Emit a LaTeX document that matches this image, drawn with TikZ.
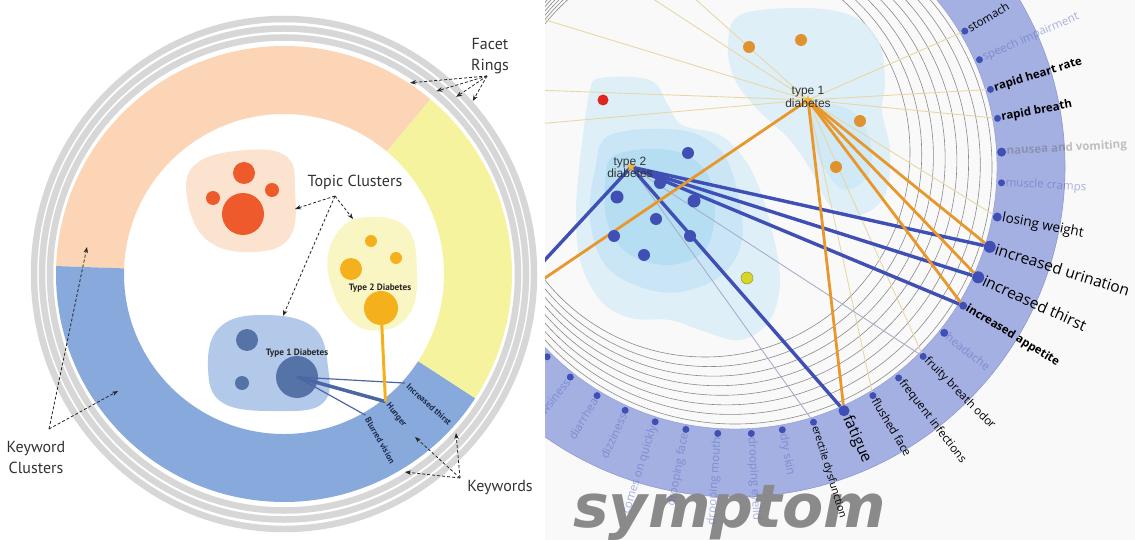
\documentclass[tikz,border=0pt]{standalone}
\usepackage{fontspec}
\setmainfont{PT Sans}
\newfontfamily\labfont{Open Sans}
\newfontfamily\arialfont{Liberation Sans}
\newfontfamily\symfont{DejaVu Sans}
\usetikzlibrary{arrows.meta,calc,shapes.geometric}
\definecolor{peachband}{HTML}{FBD5B5}
\definecolor{yellowband}{HTML}{F6F39F}
\definecolor{blueband}{HTML}{87A9DB}
\definecolor{ringgray}{HTML}{D7D7D7}
\definecolor{peachblob}{HTML}{FCE3CF}
\definecolor{reddot}{HTML}{EE5A2C}
\definecolor{yellowblob}{HTML}{FAF6C3}
\definecolor{ydot}{HTML}{F5B11B}
\definecolor{blueblob}{HTML}{B3C9EA}
\definecolor{bdotL}{HTML}{5573A7}
\definecolor{kwtext}{HTML}{1E2B4A}
\definecolor{linkblue}{HTML}{4A67A3}
\definecolor{annot}{HTML}{333333}
\definecolor{rbg}{HTML}{F9F9F9}
\definecolor{bandblue}{HTML}{A4AFE2}
\definecolor{bandedge}{HTML}{8E99CF}
\definecolor{ringline}{HTML}{8A8A8A}
\definecolor{blobA}{HTML}{DCEEF8}
\definecolor{blobB}{HTML}{C8E6F6}
\definecolor{blobC}{HTML}{B0DCF3}
\definecolor{orangeline}{HTML}{E8972B}
\definecolor{linkdark}{HTML}{3F4FB3}
\definecolor{tanline}{HTML}{E8D7A6}
\definecolor{grayline}{HTML}{A9AFCB}
\definecolor{odot}{HTML}{E0922E}
\definecolor{rdot}{HTML}{E0241F}
\definecolor{ydotB}{HTML}{D6D62A}
\definecolor{starorange}{HTML}{F4B43A}
\definecolor{labfade}{HTML}{5A6ABF}
\definecolor{symgray}{HTML}{8A8A8A}
\tikzset{
  dotnode/.style={circle,inner sep=0pt,draw=none},
  annotext/.style={font=\fontsize{16}{21}\selectfont,text=annot,align=center,inner sep=0pt},
  annarrow/.style={densely dashed,line width=0.8pt,draw=black!85,-{Stealth[length=6pt,width=4.5pt]}},
  kwlab/.style={font=\bfseries\fontsize{8.6}{9}\selectfont,text=kwtext,inner sep=0.5pt},
  typelab/.style={font=\bfseries\fontsize{9.2}{10}\selectfont,text=black!85,inner sep=0pt},
  bdot/.style={circle,inner sep=0pt,fill=linkdark},
  lreg/.style={font=\labfont\fontsize{11.5}{12}\selectfont,text=black,inner sep=0pt},
  lsmall/.style={font=\labfont\fontsize{10.5}{11}\selectfont,text=black,inner sep=0pt},
  lbold/.style={font=\labfont\bfseries\fontsize{11.5}{12}\selectfont,text=black,inner sep=0pt},
  lmid/.style={font=\labfont\fontsize{13.5}{14}\selectfont,text=black,inner sep=0pt},
  lbig/.style={font=\labfont\fontsize{15.5}{16}\selectfont,text=black,inner sep=0pt},
  lfade/.style={font=\labfont\fontsize{11.5}{12}\selectfont,text=labfade,text opacity=0.5,inner sep=0pt},
  lfadebold/.style={font=\labfont\bfseries\fontsize{11.5}{12}\selectfont,text=black!60,text opacity=0.4,inner sep=0pt},
  tlab/.style={font=\arialfont\fontsize{12}{10.5}\selectfont,text=black!80,align=center,inner sep=0pt},
  thickblue/.style={draw=linkdark,line width=3.4pt},
  thickorange/.style={draw=orangeline,line width=2.8pt},
  thintan/.style={draw=tanline,line width=0.9pt},
  thingray/.style={draw=grayline,line width=0.9pt},
}
\begin{document}
\begin{tikzpicture}[x=1pt,y=-1pt]
\useasboundingbox (0,0) rectangle (1135,540);
\clip (0,0) rectangle (1135,540);
\fill[white] (0,0) rectangle (545,540);

% ================= LEFT PANEL =================
\coordinate (O) at (284,274);
% facet gray rings
\foreach \rx/\ry in {234/236.5,242/245.5,250/255}
  \draw[ringgray,line width=6.5pt] (O) ellipse[x radius=\rx pt,y radius=\ry pt];
% keyword cluster band
\fill[peachband] ($(O)+(50:228pt)$) arc[start angle=50,end angle=178,radius=228pt]
  -- ($(O)+(178:160pt)$) arc[start angle=178,end angle=50,radius=160pt] -- cycle;
\fill[blueband] ($(O)+(178:228pt)$) arc[start angle=178,end angle=327,radius=228pt]
  -- ($(O)+(327:160pt)$) arc[start angle=327,end angle=178,radius=160pt] -- cycle;
\fill[yellowband] ($(O)+(327:228pt)$) arc[start angle=327,end angle=410,radius=228pt]
  -- ($(O)+(410:160pt)$) arc[start angle=410,end angle=327,radius=160pt] -- cycle;

% topic cluster blobs
\fill[peachblob] plot[smooth cycle,tension=0.7] coordinates {(197,163) (247,150) (287,157) (295,190) (290,237) (253,252) (207,240) (187,197)};
\fill[yellowblob] plot[smooth cycle,tension=0.7] coordinates {(367,217) (407,228) (417,273) (410,313) (383,330) (350,320) (328,273) (337,233)};
\fill[blueblob] plot[smooth cycle,tension=0.7] coordinates {(220,327) (263,315) (313,327) (328,367) (323,403) (280,411) (223,403) (208,367)};

% keyword endpoints
\coordinate (kw1) at ($(O)+(-42:163pt)$);
\coordinate (kw2) at ($(O)+(-51.5:163pt)$);
\coordinate (kw3) at ($(O)+(-60:163pt)$);

% dots
\node[dotnode,fill=reddot,minimum size=42pt] (rbig) at (243,214) {};
\node[dotnode,fill=reddot,minimum size=22pt] (rtop) at (244,173) {};
\node[dotnode,fill=reddot,minimum size=14pt] (rleft) at (213,198) {};
\node[dotnode,fill=reddot,minimum size=14pt] (rright) at (272,190) {};
\node[dotnode,fill=ydot,minimum size=12pt] (y1) at (371,241) {};
\node[dotnode,fill=ydot,minimum size=12pt] (y2) at (396,258) {};
\node[dotnode,fill=ydot,minimum size=22pt] (y3) at (351,269) {};
\node[dotnode,fill=ydot,minimum size=34pt] (ybig) at (381,308) {};
\node[dotnode,fill=bdotL,minimum size=22pt] (b1) at (247,340) {};
\node[dotnode,fill=bdotL,minimum size=14pt] (b2) at (242,383) {};
\node[dotnode,fill=bdotL,minimum size=42pt] (bbig) at (297,377) {};

% links
\draw[linkblue,line width=1.2pt] (bbig.center) -- (kw1);
\draw[linkblue,line width=1.2pt] (bbig.center) -- (kw3);
\draw[linkblue,line width=3.5pt] (bbig.center) -- (kw2);
\draw[ydot,line width=3pt] (ybig.center) -- (kw2);

\node[typelab] (t2name) at (380,288) {Type 2 Diabetes};
\node[typelab] (t1name) at (297,353) {Type 1 Diabetes};

% keyword labels
\node[kwlab,rotate=-42,anchor=west] (kl1) at ($(O)+(-42:166pt)$) {Increased thirst};
\node[kwlab,rotate=-51.5,anchor=west] (kl2) at ($(O)+(-51.5:166pt)$) {Hunger};
\node[kwlab,rotate=-60,anchor=west] (kl3) at ($(O)+(-60:166pt)$) {Blurred vision};

% annotations
\node[annotext] (facet) at (490,56) {Facet\\Rings};
\node[annotext] (topic) at (355,182) {Topic Clusters};
\node[annotext] (kwclus) at (36,457) {Keyword\\Clusters};
\node[annotext] (kwords) at (500,488) {Keywords};

\coordinate (fo) at (487,76);
\draw[annarrow] (fo) -- ($(O)+(56.6:229pt)$);
\draw[annarrow] (fo) -- ($(O)+(50.2:238pt)$);
\draw[annarrow] (fo) -- ($(O)+(45.8:247pt)$);
\draw[annarrow] (fo) -- ($(O)+(42.5:256pt)$);
\coordinate (to) at (335,196);
\draw[annarrow] (to) -- (295,209);
\draw[annarrow] (to) -- (353,219);
\draw[annarrow] (to) -- (283,316);
\coordinate (ko) at (49,429);
\draw[annarrow] (ko) -- (87,247);
\draw[annarrow] (ko) -- (118,391);
\coordinate (wo) at (460,478);
\draw[annarrow] (wo) -- (405,472);
\draw[annarrow] (wo) -- (415,437);
\draw[annarrow] (wo) -- (456,433);

% ================= RIGHT PANEL =================
\begin{scope}
\clip (545,0) rectangle (1135,540);
\fill[rbg] (545,0) rectangle (1135,540);
\coordinate (C) at (735,167);
% symptom band
\fill[bandblue,even odd rule] (C) circle[radius=330pt] (C) circle[radius=262pt];
\draw[bandedge,line width=0.6pt] (C) circle[radius=330pt];
\draw[bandedge,line width=0.4pt] (C) circle[radius=262pt];
% inner rings
\foreach \i in {0,...,7}{
  \pgfmathsetmacro\cx{705+4.2857*\i}
  \pgfmathsetmacro\cy{152+2.1429*\i}
  \pgfmathsetmacro\rr{205+7.43*\i}
  \draw[ringline,line width=0.6pt] (\cx,\cy) circle[radius=\rr pt];
}
% clusters
\fill[blobA,opacity=0.9] plot[smooth cycle,tension=0.6] coordinates {(740,15) (800,8) (850,15) (878,40) (885,80) (882,112) (890,150) (885,195) (860,215) (830,205) (812,172) (790,140) (760,112) (735,80) (728,45)};
\fill[blobB,opacity=0.6] plot[smooth cycle,tension=0.6] coordinates {(815,105) (850,110) (870,140) (868,175) (845,190) (825,170) (812,135)};
\fill[blobA,opacity=0.9] plot[smooth cycle,tension=0.6] coordinates {(600,78) (650,80) (668,105) (682,125) (720,135) (745,160) (760,190) (772,230) (780,280) (770,320) (740,340) (700,330) (670,320) (630,318) (600,300) (580,260) (576,210) (580,160) (585,120) (590,90)};
\fill[blobB,opacity=0.9] plot[smooth cycle,tension=0.6] coordinates {(610,135) (680,130) (720,150) (737,190) (742,240) (722,275) (680,292) (640,287) (605,265) (590,220) (595,170)};
\fill[blobC,opacity=0.8] plot[smooth cycle,tension=0.6] coordinates {(615,155) (670,150) (705,170) (715,210) (705,250) (670,265) (630,255) (608,225) (605,185)};

% band dots
\foreach \n/\a/\d in {1/30.6/7,2/23.7/7,3/16.9/7,4/10.5/7,5/3.2/9,6/-3.4/7,7/-10.8/9,8/-17.4/12,9/-24.4/12,10/-31.3/8,11/-38.4/8,12/-45.2/7,13/-52.2/7,14/-58.9/7,15/-65.9/11,16/-72.9/7,17/-79.8/7,18/-86.5/7,19/-93.7/7,20/-100.6/7,21/-107.4/7,22/-114.3/7,23/-121.1/7,24/-128.1/7,25/-134.7/7}{
  \node[bdot,minimum size=\d pt] (d\n) at ($(C)+(\a:267pt)$) {};
}

% thin links
\coordinate (t1) at (808,100);
\coordinate (t2) at (631,167);
\coordinate (f1) at (480,0);
\coordinate (f2) at (480,88);
\coordinate (f3) at (480,129);
\coordinate (f4) at (624,-20);
\coordinate (f5) at (674,-20);
\coordinate (f6) at (480,330);
\coordinate (f7) at (480,322);
\foreach \e in {f1,f2,f3,f4,f5,d1,d3,d4,d7,d14,d12}
  \draw[thintan] (t1) -- (\e);
\draw[thingray] (t2) -- (d16);
\draw[thingray] (t2) -- (d12);

% thick links
\foreach \e in {d8,d9,d10,d15,f6}
  \draw[thickblue] (t2) -- (\e);
\foreach \e in {d8,d9,d10,d15,f7}
  \draw[thickorange] (t1) -- (\e);

% cluster dots
\node[dotnode,fill=odot,minimum size=12pt] (o1) at (749,47) {};
\node[dotnode,fill=odot,minimum size=12pt] (o2) at (801,40) {};
\node[dotnode,fill=odot,minimum size=12pt] (o3) at (860,121) {};
\node[dotnode,fill=odot,minimum size=12pt] (o4) at (836,167) {};
\node[dotnode,fill=rdot,minimum size=11pt] (r1) at (603,100) {};
\node[dotnode,fill=linkdark,minimum size=12pt] (u1) at (688,153) {};
\node[dotnode,fill=linkdark,minimum size=12pt] (u2) at (660,183) {};
\node[dotnode,fill=linkdark,minimum size=13pt] (u3) at (617,197) {};
\node[dotnode,fill=linkdark,minimum size=13pt] (u4) at (694,201) {};
\node[dotnode,fill=linkdark,minimum size=12pt] (u5) at (656,219) {};
\node[dotnode,fill=linkdark,minimum size=12pt] (u6) at (614,236) {};
\node[dotnode,fill=linkdark,minimum size=12pt] (u7) at (690,236) {};
\node[dotnode,fill=linkdark,minimum size=12pt] (u8) at (644,255) {};
\node[dotnode,fill=ydotB,draw=ydotB!70!black,line width=0.5pt,minimum size=12pt] (yy) at (747,278) {};

% topic stars and labels
\node[star,star points=5,star point ratio=2.2,fill=starorange,minimum size=10pt,inner sep=0pt] (s1) at (t1) {};
\node[star,star points=5,star point ratio=2.2,fill=starorange,minimum size=10pt,inner sep=0pt] (s2) at (t2) {};
\node[tlab] (t1lab) at (808,97) {type 1\\diabetes};
\node[tlab] (t2lab) at (630,167) {type 2\\diabetes};

% big title
\node[anchor=base west,inner sep=0pt,font=\symfont\bfseries\itshape\fontsize{60}{60}\selectfont,text=symgray] (sym) at (573,527) {symptom};

% band labels
\foreach \n/\a/\r/\st/\t in {
  1/30.6/271/lreg/stomach,
  2/23.7/271/lfade/speech impairment,
  3/16.9/271/lbold/rapid heart rate,
  4/10.5/271/lbold/rapid breath,
  5/3.2/272/lfadebold/nausea and vomiting,
  6/-3.4/271/lfade/muscle cramps,
  7/-10.8/272/lmid/losing weight,
  8/-17.4/273/lbig/increased urination,
  9/-24.4/273/lbig/increased thirst,
  10/-31.3/271/lbold/increased appetite,
  11/-38.4/271/lfade/headache,
  12/-45.2/271/lreg/fruity breath odor,
  13/-52.2/271/lreg/frequent infections,
  14/-58.9/271/lreg/flushed face,
  15/-65.9/273/lbig/fatigue,
  16/-72.9/271/lsmall/erectile dysfunction,
  17/-79.8/271/lfade/dry skin,
  18/-86.5/271/lfade/drooping eyelid}{
  \node[\st,rotate=\a,anchor=west] (l\n) at ($(C)+(\a:\r pt)$) {\t};
}
\foreach \n/\a/\t in {19/-93.7/drooping mouth,20/-100.6/drooping face,21/-107.4/comes on quickly,22/-114.3/dizziness,23/-121.1/diarrhea,24/-128.1/drowsiness,25/-134.7/dry mouth}{
  \pgfmathsetmacro\b{\a+180}
  \node[lfade,rotate=\b,anchor=east] (l\n) at ($(C)+(\a:271pt)$) {\t};
}
\end{scope}
\end{tikzpicture}
\end{document}
